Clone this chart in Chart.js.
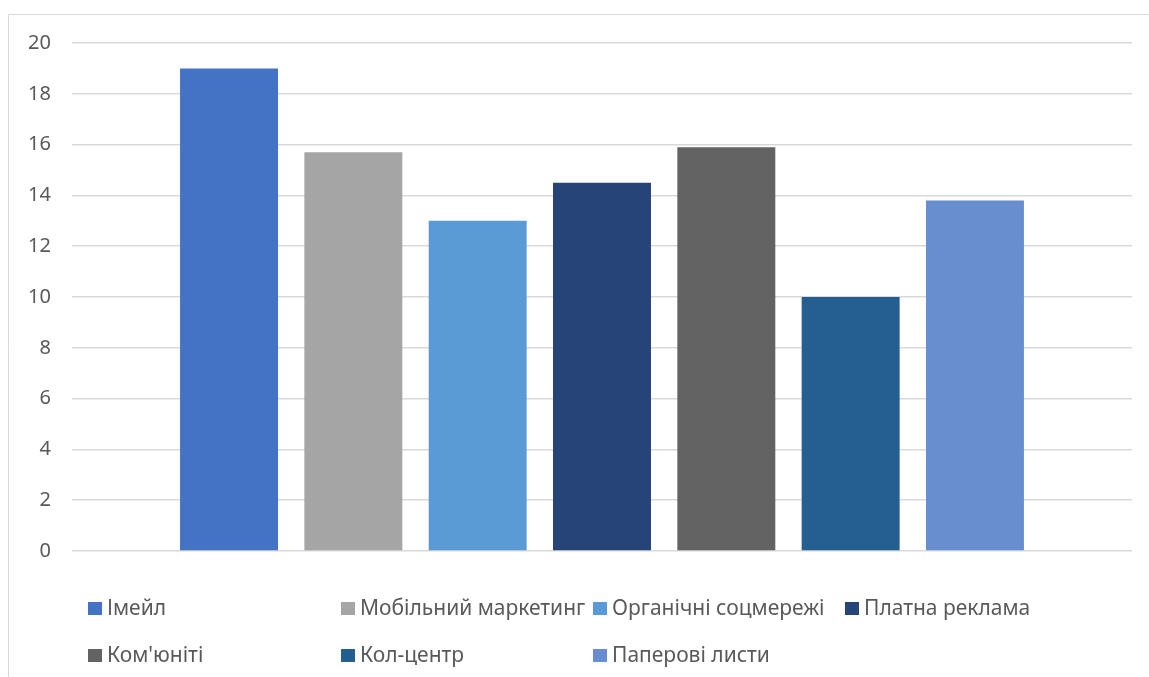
<!DOCTYPE html>
<html>
<head>
<meta charset="utf-8">
<script src="https://cdn.jsdelivr.net/npm/chart.js@4"></script>
<style>
  html, body { margin: 0; padding: 0; background: #ffffff; }
  #wrap { width: 1149px; height: 677px; position: relative; }
</style>
</head>
<body>
<div id="wrap"><canvas id="chart"></canvas></div>
<script>
// Chart values
var seriesNames = ["Імейл", "Мобільний маркетинг", "Органічні соцмережі", "Платна реклама",
                   "Ком'юніті", "Кол-центр", "Паперові листи"];
var seriesValues = [19, 15.7, 13, 14.5, 15.9, 10, 13.8];
var seriesColors = ["#4472C4", "#A5A5A5", "#5B9BD5", "#264478", "#636363", "#255E91", "#698ED0"];
var yTicks = [0, 2, 4, 6, 8, 10, 12, 14, 16, 18, 20];

var textColor = "#595959";
var fontFamily = "'Noto Sans', 'DejaVu Sans', sans-serif";

//Build one dataset per series, all in a single (empty) category
var datasets = [];
for (var i = 0; i < seriesNames.length; i++) {
    datasets.push({
        label: seriesNames[i],
        data: [seriesValues[i]],
        backgroundColor: seriesColors[i],
        borderWidth: 0,
        categoryPercentage: 0.821,
        barPercentage: 0.788
    });
}

//Frame round the chart, like the Excel chart border
var framePlugin = {
    id: 'frame',
    beforeDraw: function (chart) {
        var ctx = chart.ctx;
        ctx.save();
        ctx.strokeStyle = "#d9d9d9";
        ctx.lineWidth = 1;
        ctx.beginPath();
        ctx.moveTo(8.5, chart.height);
        ctx.lineTo(8.5, 14.5);
        ctx.lineTo(chart.width, 14.5);
        ctx.stroke();
        ctx.restore();
    }
};

//Legend in a 4-column grid below the plot
var gridLegend = {
    id: 'gridLegend',
    afterDraw: function (chart) {
        var ctx = chart.ctx;
        var cols = [88, 341, 593, 845];
        var baselines = [615, 662];
        ctx.save();
        ctx.font = "21px " + fontFamily;
        ctx.textBaseline = "alphabetic";
        chart.data.datasets.forEach(function (ds, i) {
            var x = cols[i % 4];
            var y = baselines[Math.floor(i / 4)];
            ctx.fillStyle = ds.backgroundColor;
            ctx.fillRect(x, y - 13, 14, 13);
            ctx.fillStyle = textColor;
            ctx.fillText(ds.label, x + 19, y);
        });
        ctx.restore();
    }
};

var ctx = document.getElementById("chart").getContext("2d");
var chart = new Chart(ctx, {
    type: 'bar',
    data: {
        labels: [""],
        datasets: datasets
    },
    options: {
        responsive: true,
        maintainAspectRatio: false,
        animation: false,
        layout: {
            padding: { left: 0, top: 43, right: 17, bottom: 126 }
        },
        plugins: {
            legend: { display: false },
            tooltip: { enabled: false }
        },
        scales: {
            x: {
                display: false
            },
            y: {
                min: 0,
                max: 20,
                afterBuildTicks: function (scale) {
                    scale.ticks = yTicks.map(function (v) { return { value: v }; });
                },
                afterFit: function (scale) {
                    scale.width = 72;
                },
                border: { display: false },
                grid: {
                    color: "#d9d9d9",
                    lineWidth: 1.5,
                    drawTicks: false
                },
                ticks: {
                    padding: 21,
                    color: textColor,
                    font: { family: fontFamily, size: 20 }
                }
            }
        }
    },
    plugins: [framePlugin, gridLegend]
});
</script>
</body>
</html>
